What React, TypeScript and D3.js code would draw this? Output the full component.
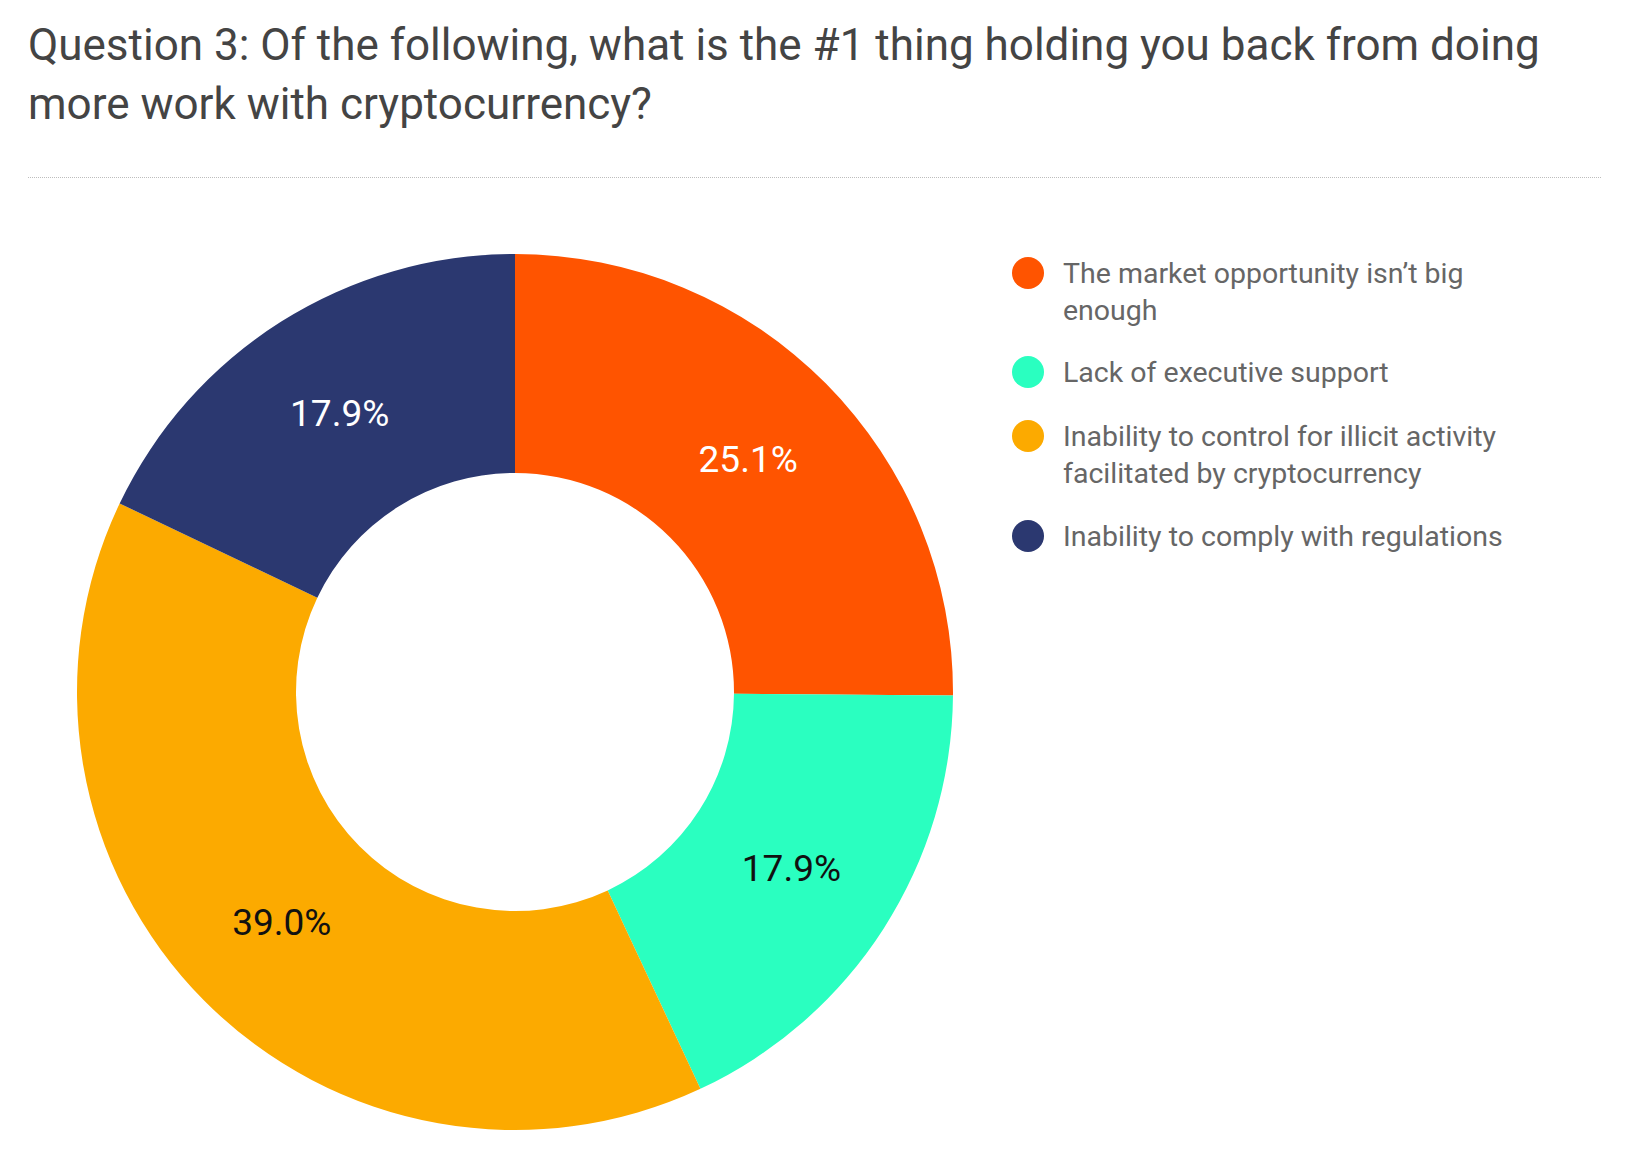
import { useEffect, useRef } from "react";
import * as d3 from "d3";

const titleLines = [
  "Question 3: Of the following, what is the #1 thing holding you back from doing",
  "more work with cryptocurrency?",
];

// slice order runs clockwise from 12 o'clock
const categories = [
  ["The market opportunity isn’t big", "enough"],
  ["Lack of executive support"],
  ["Inability to control for illicit activity", "facilitated by cryptocurrency"],
  ["Inability to comply with regulations"],
];
const shares = [25.1, 17.9, 39.0, 17.9];
const colors = ["#ff5400", "#2affc0", "#fcaa00", "#2b3870"];
const labelColors = ["#ffffff", "#111111", "#111111", "#ffffff"];

const W = 1636;
const H = 1170;
const FONT = "Roboto, 'Noto Sans', sans-serif";

export default function App() {
  const svgRef = useRef<SVGSVGElement>(null);

  useEffect(() => {
    if (!svgRef.current) return;
    const svg = d3.select(svgRef.current);
    svg.selectAll("*").remove();

    // Title
    svg
      .append("g")
      .selectAll("text")
      .data(titleLines)
      .enter()
      .append("text")
      .attr("x", 28)
      .attr("y", (_d, i) => 60 + i * 59)
      .attr("font-family", FONT)
      .attr("font-size", 44)
      .attr("fill", "#444444")
      .text((d) => d);

    // Dotted rule under the title
    svg
      .append("line")
      .attr("x1", 28)
      .attr("x2", 1602)
      .attr("y1", 177.5)
      .attr("y2", 177.5)
      .attr("stroke", "#bdbdbd")
      .attr("stroke-width", 1)
      .attr("stroke-dasharray", "1,1");

    // Donut
    const cx = 515;
    const cy = 692;
    const outer = 438;
    const inner = 219;

    const pie = d3
      .pie<number>()
      .sort(null)
      .value((d) => d);
    const arcs = pie(shares);
    const arc = d3.arc<d3.PieArcDatum<number>>().innerRadius(inner).outerRadius(outer);

    const g = svg.append("g").attr("transform", `translate(${cx},${cy})`);

    g.selectAll("path")
      .data(arcs)
      .enter()
      .append("path")
      .attr("d", arc)
      .attr("fill", (_d, i) => colors[i]);

    g.selectAll("text")
      .data(arcs)
      .enter()
      .append("text")
      .attr("transform", (d) => `translate(${arc.centroid(d)})`)
      .attr("text-anchor", "middle")
      .attr("dy", "0.32em")
      .attr("font-family", FONT)
      .attr("font-size", 37)
      .attr("fill", (_d, i) => labelColors[i])
      .text((d) => `${d.data.toFixed(1)}%`);

    // Legend
    const legendY = [273, 372, 436, 536];
    const legend = svg
      .append("g")
      .selectAll("g")
      .data(categories)
      .enter()
      .append("g")
      .attr("transform", (_d, i) => `translate(1028,${legendY[i]})`);

    legend
      .append("circle")
      .attr("r", 16)
      .attr("fill", (_d, i) => colors[i]);

    legend
      .append("text")
      .attr("font-family", FONT)
      .attr("font-size", 28.5)
      .attr("fill", "#666666")
      .selectAll("tspan")
      .data((d) => d)
      .enter()
      .append("tspan")
      .attr("x", 35)
      .attr("y", (_d, i) => i * 37)
      .attr("dy", "0.35em")
      .text((d) => d);
  }, []);

  return (
    <svg
      ref={svgRef}
      width={W}
      height={H}
      style={{ position: "absolute", left: 0, top: 0, background: "#ffffff" }}
    />
  );
}
